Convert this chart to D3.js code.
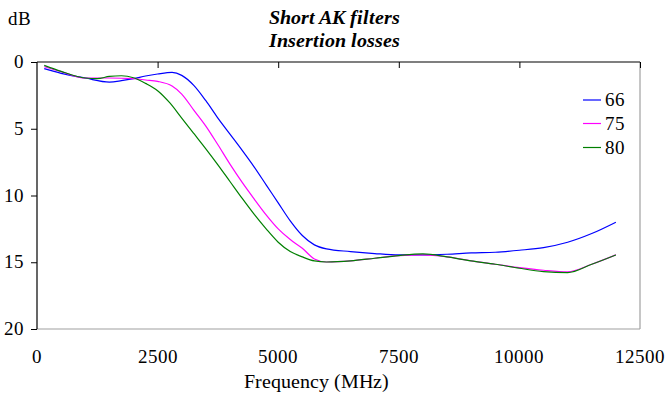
<!DOCTYPE HTML>
<html>
<head>
	<meta charset="UTF-8">
	<script src="https://d3js.org/d3.v7.min.js"></script>
	<style type="text/css">
	@font-face {
		font-family: "ChartSerif";
		src: local("Liberation Serif"), local("LiberationSerif"), local("Times New Roman");
		font-weight: normal;
		font-style: normal;
	}
	@font-face {
		font-family: "ChartSerif";
		src: local("Liberation Serif Bold Italic"), local("LiberationSerif-BoldItalic");
		font-weight: bold;
		font-style: italic;
	}
	body { margin: 0; background: #fff; }
	.line { fill: none; stroke-width: 1.2; }
	.lbl { font-family: "ChartSerif", "Liberation Serif", "Times New Roman", serif; fill: #000; }
	</style>
	<title>Short AK filters</title>
</head>
<body>
<div id="chart"></div>
<script>
// frequencies (MHz) and insertion loss (dB)
var freq66 = [150, 500, 1000, 1500, 1750, 2000, 2250, 2500, 2800, 3000, 3250, 3500, 3750, 4000, 4250, 4500, 4750, 5000, 5250, 5500, 5750, 6000, 6500, 7000, 7500, 8000, 8500, 9000, 9500, 10000, 10500, 11000, 11500, 12000];
var loss66 = [0.5, 0.85, 1.2, 1.5, 1.4, 1.25, 1.05, 0.9, 0.78, 1.0, 1.75, 2.9, 4.2, 5.4, 6.6, 7.85, 9.2, 10.55, 11.9, 13.0, 13.7, 14.0, 14.2, 14.35, 14.45, 14.45, 14.4, 14.3, 14.25, 14.1, 13.9, 13.5, 12.85, 12.0];

var freq75 = [150, 500, 1000, 1500, 2000, 2250, 2500, 2800, 3000, 3250, 3500, 3750, 4000, 4250, 4500, 4750, 5000, 5250, 5500, 5750, 6000, 6500, 7000, 7500, 8000, 8500, 9000, 9500, 10000, 10500, 11000, 11500, 12000];
var loss75 = [0.35, 0.72, 1.2, 1.2, 1.25, 1.35, 1.45, 1.8, 2.4, 3.6, 4.8, 6.2, 7.65, 9.0, 10.25, 11.45, 12.5, 13.3, 13.95, 14.75, 14.98, 14.9, 14.7, 14.5, 14.45, 14.6, 14.9, 15.15, 15.4, 15.6, 15.72, 15.15, 14.45];

var freq80 = [150, 500, 1000, 1250, 1500, 1750, 2000, 2250, 2500, 2750, 3000, 3250, 3500, 3750, 4000, 4250, 4500, 4750, 5000, 5250, 5500, 5750, 6000, 6500, 7000, 7500, 8000, 8500, 9000, 9500, 10000, 10500, 11000, 11500, 12000];
var loss80 = [0.25, 0.7, 1.2, 1.25, 1.08, 1.03, 1.18, 1.6, 2.15, 3.05, 4.2, 5.35, 6.5, 7.7, 8.95, 10.2, 11.4, 12.5, 13.5, 14.2, 14.6, 14.9, 14.98, 14.9, 14.7, 14.5, 14.38, 14.6, 14.9, 15.15, 15.45, 15.7, 15.78, 15.15, 14.45];

var seriesNames = ["66", "75", "80"];
var seriesColors = ["#0000ff", "#ff00ff", "#008000"];
var xTicks = [0, 2500, 5000, 7500, 10000, 12500];
var yTicks = [0, 5, 10, 15, 20];

var W = 666, H = 394;
var margin = {top: 62, right: 26, bottom: 65, left: 37};
var width = W - margin.left - margin.right;
var height = H - margin.top - margin.bottom;

var svg = d3.select("#chart").append("svg")
    .attr("width", W)
    .attr("height", H);

var xScale = d3.scaleLinear().domain([0, 12500]).range([margin.left, margin.left + width]);
var yScale = d3.scaleLinear().domain([0, 20]).range([margin.top, margin.top + height]);

// plot frame: black top/left, grey right/bottom
svg.append("line").attr("x1", xScale(12500)).attr("x2", xScale(12500))
    .attr("y1", yScale(0)).attr("y2", yScale(20)).attr("stroke", "#a0a0a0").attr("stroke-width", 1.2);
svg.append("line").attr("x1", xScale(0)).attr("x2", xScale(12500))
    .attr("y1", yScale(20)).attr("y2", yScale(20)).attr("stroke", "#a0a0a0").attr("stroke-width", 1.2);

function label(x, y, txt, size, anchor, bold) {
  var t = svg.append("text")
    .attr("class", "lbl")
    .attr("x", x).attr("y", y)
    .attr("text-anchor", anchor)
    .style("font-size", size + "px")
    .text(txt);
  if (bold) t.style("font-weight", "bold").style("font-style", "italic");
  return t;
}

// top axis with inward ticks, labels drawn below the plot
var xAxis = svg.append("g")
    .attr("transform", "translate(0," + yScale(0) + ")")
    .call(d3.axisBottom(xScale).tickValues(xTicks).tickSize(6).tickFormat(""));
xAxis.select(".domain").attr("stroke", "#000").attr("stroke-width", 1.2).attr("d", "M" + xScale(0) + ",0H" + xScale(12500));
xAxis.selectAll(".tick line").attr("stroke", "#000");
xAxis.selectAll(".tick").filter(function(d) { return d === 0; }).remove();

xTicks.forEach(function(d) {
  label(xScale(d), 363, String(d), 19, "middle", false);
});

// left axis, outward ticks
var yAxis = svg.append("g")
    .attr("transform", "translate(" + xScale(0) + ",0)")
    .call(d3.axisLeft(yScale).tickValues(yTicks).tickSize(6).tickFormat(""));
yAxis.select(".domain").attr("stroke", "#000").attr("stroke-width", 1.2).attr("d", "M0," + yScale(0) + "V" + yScale(20));
yAxis.selectAll(".tick line").attr("stroke", "#000");
yTicks.forEach(function(d) {
  label(24, yScale(d) + 6, String(d), 19, "end", false);
});

// series
var allData = [
    d3.zip(freq66, loss66),
    d3.zip(freq75, loss75),
    d3.zip(freq80, loss80)
];
var line = d3.line()
    .x(function(d) { return xScale(d[0]); })
    .y(function(d) { return yScale(d[1]); })
    .curve(d3.curveMonotoneX);

allData.forEach(function(s, i) {
  svg.append("path")
    .attr("class", "line")
    .attr("stroke", seriesColors[i])
    .attr("d", line(s));
});

// legend
var legendY = [100, 123.5, 147.5];
seriesNames.forEach(function(name, i) {
  svg.append("line")
    .attr("x1", 583).attr("x2", 601)
    .attr("y1", legendY[i]).attr("y2", legendY[i])
    .attr("stroke", seriesColors[i]).attr("stroke-width", 1.2);
  label(605, legendY[i] + 6, name, 19, "start", false);
});

// titles
label(334, 24, "Short AK filters", 20, "middle", true);
label(334, 47, "Insertion losses", 20, "middle", true);
label(8, 25, "dB", 19, "start", false);
label(316, 388, "Frequency (MHz)", 20, "middle", false);
</script>
</body>
</html>
